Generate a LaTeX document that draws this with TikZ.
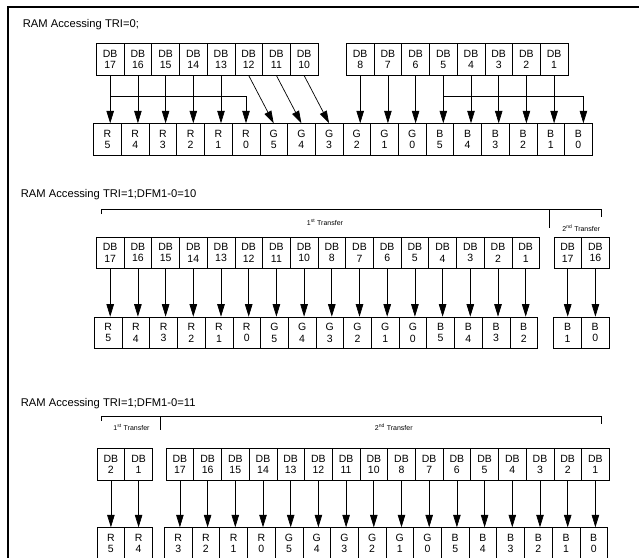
\documentclass[tikz,border=0pt]{standalone}
\usepackage{fontspec}
\setmainfont{Liberation Sans}
\usetikzlibrary{arrows.meta}
\newcommand{\cellw}{27.7}
\newcommand{\cellh}{31.5}

\begin{document}
\begin{tikzpicture}[x=1pt, y=-1pt,
    rect/.style={draw, rectangle, anchor=north west, minimum width=\cellw pt, minimum height=\cellh pt, inner sep=0pt, align=center, line width=0.7pt, font=\fontsize{10.5}{11.2}\selectfont},
    title/.style={anchor=base west, inner sep=0pt, font=\fontsize{11.2}{13}\selectfont},
    small/.style={inner sep=0pt, font=\fontsize{7}{8}\selectfont},
    arr/.style={line width=0.7pt, -{Triangle[length=12.5pt, width=7.5pt]}},
    brack/.style={line width=0.7pt}]
    \useasboundingbox (0,0) rectangle (639,557);
    % Frame
    \draw[line width=1.8pt] (8.3,580) -- (8.3,6.7) -- (660,6.7);

    % TRI=0
    \node[title] (title-1) at (22.7,27.3) {RAM Accessing TRI=0;};
    % First row
    \node[rect] (db-1-1) at (96+0*\cellw,43.3) {DB\\17};
    \node[rect] (db-1-2) at (96+1*\cellw,43.3) {DB\\16};
    \node[rect] (db-1-3) at (96+2*\cellw,43.3) {DB\\15};
    \node[rect] (db-1-4) at (96+3*\cellw,43.3) {DB\\14};
    \node[rect] (db-1-5) at (96+4*\cellw,43.3) {DB\\13};
    \node[rect] (db-1-6) at (96+5*\cellw,43.3) {DB\\12};
    \node[rect] (db-1-7) at (96+6*\cellw,43.3) {DB\\11};
    \node[rect] (db-1-8) at (96+7*\cellw,43.3) {DB\\10};
    \node[rect] (db-1-9) at (346+0*\cellw,43.3) {DB\\8};
    \node[rect] (db-1-10) at (346+1*\cellw,43.3) {DB\\7};
    \node[rect] (db-1-11) at (346+2*\cellw,43.3) {DB\\6};
    \node[rect] (db-1-12) at (346+3*\cellw,43.3) {DB\\5};
    \node[rect] (db-1-13) at (346+4*\cellw,43.3) {DB\\4};
    \node[rect] (db-1-14) at (346+5*\cellw,43.3) {DB\\3};
    \node[rect] (db-1-15) at (346+6*\cellw,43.3) {DB\\2};
    \node[rect] (db-1-16) at (346+7*\cellw,43.3) {DB\\1};
    % Second row
    \node[rect] (px-1-1) at (93.3+0*\cellw,123.3) {R\\5};
    \node[rect] (px-1-2) at (93.3+1*\cellw,123.3) {R\\4};
    \node[rect] (px-1-3) at (93.3+2*\cellw,123.3) {R\\3};
    \node[rect] (px-1-4) at (93.3+3*\cellw,123.3) {R\\2};
    \node[rect] (px-1-5) at (93.3+4*\cellw,123.3) {R\\1};
    \node[rect] (px-1-6) at (93.3+5*\cellw,123.3) {R\\0};
    \node[rect] (px-1-7) at (93.3+6*\cellw,123.3) {G\\5};
    \node[rect] (px-1-8) at (93.3+7*\cellw,123.3) {G\\4};
    \node[rect] (px-1-9) at (93.3+8*\cellw,123.3) {G\\3};
    \node[rect] (px-1-10) at (93.3+9*\cellw,123.3) {G\\2};
    \node[rect] (px-1-11) at (93.3+10*\cellw,123.3) {G\\1};
    \node[rect] (px-1-12) at (93.3+11*\cellw,123.3) {G\\0};
    \node[rect] (px-1-13) at (93.3+12*\cellw,123.3) {B\\5};
    \node[rect] (px-1-14) at (93.3+13*\cellw,123.3) {B\\4};
    \node[rect] (px-1-15) at (93.3+14*\cellw,123.3) {B\\3};
    \node[rect] (px-1-16) at (93.3+15*\cellw,123.3) {B\\2};
    \node[rect] (px-1-17) at (93.3+16*\cellw,123.3) {B\\1};
    \node[rect] (px-1-18) at (93.3+17*\cellw,123.3) {B\\0};
    % Arrows
    \draw[arr] (db-1-1.south) -- (db-1-1.south |- px-1-1.north);
    \draw[arr] (db-1-2.south) -- (db-1-2.south |- px-1-2.north);
    \draw[arr] (db-1-3.south) -- (db-1-3.south |- px-1-3.north);
    \draw[arr] (db-1-4.south) -- (db-1-4.south |- px-1-4.north);
    \draw[arr] (db-1-5.south) -- (db-1-5.south |- px-1-5.north);
    \draw[arr] ([yshift=-20.7pt]db-1-1.south) -| (px-1-6.north);
    \draw[arr] (db-1-6.south) -- (px-1-7.north);
    \draw[arr] (db-1-7.south) -- (px-1-8.north);
    \draw[arr] (db-1-8.south) -- (px-1-9.north);
    \draw[arr] (db-1-9.south) -- (db-1-9.south |- px-1-10.north);
    \draw[arr] (db-1-10.south) -- (db-1-10.south |- px-1-11.north);
    \draw[arr] (db-1-11.south) -- (db-1-11.south |- px-1-12.north);
    \draw[arr] (db-1-12.south) -- (db-1-12.south |- px-1-13.north);
    \draw[arr] (db-1-13.south) -- (db-1-13.south |- px-1-14.north);
    \draw[arr] (db-1-14.south) -- (db-1-14.south |- px-1-15.north);
    \draw[arr] (db-1-15.south) -- (db-1-15.south |- px-1-16.north);
    \draw[arr] (db-1-16.south) -- (db-1-16.south |- px-1-17.north);
    \draw[arr] ([yshift=-20.7pt]db-1-12.south) -| ([xshift=5pt]px-1-18.north);

    % TRI=1, DFM1-0=10
    \node[title] (title-2) at (20.7,197) {RAM Accessing TRI=1;DFM1-0=10};
    \draw[brack] (101.7,214) -- (101.7,209.5) -- (601.7,209.5) -- (601.7,217);
    \draw[brack] (549.3,209.5) -- (549.3,228);
    \node[small] (tr-2-1) at (325,222) {1\textsuperscript{st} Transfer};
    \node[small] (tr-2-2) at (581.2,228.3) {2\textsuperscript{nd} Transfer};
    % First row
    \node[rect] (db-2-1) at (96+0*\cellw,236.7) {DB\\17};
    \node[rect] (db-2-2) at (96+1*\cellw,236.7) {DB\\16};
    \node[rect] (db-2-3) at (96+2*\cellw,236.7) {DB\\15};
    \node[rect] (db-2-4) at (96+3*\cellw,236.7) {DB\\14};
    \node[rect] (db-2-5) at (96+4*\cellw,236.7) {DB\\13};
    \node[rect] (db-2-6) at (96+5*\cellw,236.7) {DB\\12};
    \node[rect] (db-2-7) at (96+6*\cellw,236.7) {DB\\11};
    \node[rect] (db-2-8) at (96+7*\cellw,236.7) {DB\\10};
    \node[rect] (db-2-9) at (96+8*\cellw,236.7) {DB\\8};
    \node[rect] (db-2-10) at (96+9*\cellw,236.7) {DB\\7};
    \node[rect] (db-2-11) at (96+10*\cellw,236.7) {DB\\6};
    \node[rect] (db-2-12) at (96+11*\cellw,236.7) {DB\\5};
    \node[rect] (db-2-13) at (96+12*\cellw,236.7) {DB\\4};
    \node[rect] (db-2-14) at (96+13*\cellw,236.7) {DB\\3};
    \node[rect] (db-2-15) at (96+14*\cellw,236.7) {DB\\2};
    \node[rect] (db-2-16) at (96+15*\cellw,236.7) {DB\\1};
    \node[rect] (db-2-17) at (553.5+0*\cellw,236.7) {DB\\17};
    \node[rect] (db-2-18) at (553.5+1*\cellw,236.7) {DB\\16};
    % Second row
    \node[rect] (px-2-1) at (94+0*\cellw,316.7) {R\\5};
    \node[rect] (px-2-2) at (94+1*\cellw,316.7) {R\\4};
    \node[rect] (px-2-3) at (94+2*\cellw,316.7) {R\\3};
    \node[rect] (px-2-4) at (94+3*\cellw,316.7) {R\\2};
    \node[rect] (px-2-5) at (94+4*\cellw,316.7) {R\\1};
    \node[rect] (px-2-6) at (94+5*\cellw,316.7) {R\\0};
    \node[rect] (px-2-7) at (94+6*\cellw,316.7) {G\\5};
    \node[rect] (px-2-8) at (94+7*\cellw,316.7) {G\\4};
    \node[rect] (px-2-9) at (94+8*\cellw,316.7) {G\\3};
    \node[rect] (px-2-10) at (94+9*\cellw,316.7) {G\\2};
    \node[rect] (px-2-11) at (94+10*\cellw,316.7) {G\\1};
    \node[rect] (px-2-12) at (94+11*\cellw,316.7) {G\\0};
    \node[rect] (px-2-13) at (94+12*\cellw,316.7) {B\\5};
    \node[rect] (px-2-14) at (94+13*\cellw,316.7) {B\\4};
    \node[rect] (px-2-15) at (94+14*\cellw,316.7) {B\\3};
    \node[rect] (px-2-16) at (94+15*\cellw,316.7) {B\\2};
    \node[rect] (px-2-17) at (553.3+0*\cellw,316.7) {B\\1};
    \node[rect] (px-2-18) at (553.3+1*\cellw,316.7) {B\\0};
    % Arrows
    \draw[arr] (db-2-1.south) -- (db-2-1.south |- px-2-1.north);
    \draw[arr] (db-2-2.south) -- (db-2-2.south |- px-2-2.north);
    \draw[arr] (db-2-3.south) -- (db-2-3.south |- px-2-3.north);
    \draw[arr] (db-2-4.south) -- (db-2-4.south |- px-2-4.north);
    \draw[arr] (db-2-5.south) -- (db-2-5.south |- px-2-5.north);
    \draw[arr] (db-2-6.south) -- (db-2-6.south |- px-2-6.north);
    \draw[arr] (db-2-7.south) -- (db-2-7.south |- px-2-7.north);
    \draw[arr] (db-2-8.south) -- (db-2-8.south |- px-2-8.north);
    \draw[arr] (db-2-9.south) -- (db-2-9.south |- px-2-9.north);
    \draw[arr] (db-2-10.south) -- (db-2-10.south |- px-2-10.north);
    \draw[arr] (db-2-11.south) -- (db-2-11.south |- px-2-11.north);
    \draw[arr] (db-2-12.south) -- (db-2-12.south |- px-2-12.north);
    \draw[arr] (db-2-13.south) -- (db-2-13.south |- px-2-13.north);
    \draw[arr] (db-2-14.south) -- (db-2-14.south |- px-2-14.north);
    \draw[arr] (db-2-15.south) -- (db-2-15.south |- px-2-15.north);
    \draw[arr] (db-2-16.south) -- (db-2-16.south |- px-2-16.north);
    \draw[arr] (db-2-17.south) -- (db-2-17.south |- px-2-17.north);
    \draw[arr] (db-2-18.south) -- (db-2-18.south |- px-2-18.north);

    % TRI=1, DFM1-0=11
    \node[title] (title-3) at (20.7,406.3) {RAM Accessing TRI=1;DFM1-0=11};
    \draw[brack] (101.7,420.7) -- (101.7,416.7) -- (601,416.7) -- (601,424);
    \draw[brack] (160,416.7) -- (160,430);
    \node[small] (tr-3-1) at (131.5,427.3) {1\textsuperscript{st} Transfer};
    \node[small] (tr-3-2) at (393.8,427.3) {2\textsuperscript{nd} Transfer};
    % First row
    \node[rect] (db-3-1) at (96.7+0*\cellw,448.3) {DB\\2};
    \node[rect] (db-3-2) at (96.7+1*\cellw,448.3) {DB\\1};
    \node[rect] (db-3-3) at (165.7+0*\cellw,448.3) {DB\\17};
    \node[rect] (db-3-4) at (165.7+1*\cellw,448.3) {DB\\16};
    \node[rect] (db-3-5) at (165.7+2*\cellw,448.3) {DB\\15};
    \node[rect] (db-3-6) at (165.7+3*\cellw,448.3) {DB\\14};
    \node[rect] (db-3-7) at (165.7+4*\cellw,448.3) {DB\\13};
    \node[rect] (db-3-8) at (165.7+5*\cellw,448.3) {DB\\12};
    \node[rect] (db-3-9) at (165.7+6*\cellw,448.3) {DB\\11};
    \node[rect] (db-3-10) at (165.7+7*\cellw,448.3) {DB\\10};
    \node[rect] (db-3-11) at (165.7+8*\cellw,448.3) {DB\\8};
    \node[rect] (db-3-12) at (165.7+9*\cellw,448.3) {DB\\7};
    \node[rect] (db-3-13) at (165.7+10*\cellw,448.3) {DB\\6};
    \node[rect] (db-3-14) at (165.7+11*\cellw,448.3) {DB\\5};
    \node[rect] (db-3-15) at (165.7+12*\cellw,448.3) {DB\\4};
    \node[rect] (db-3-16) at (165.7+13*\cellw,448.3) {DB\\3};
    \node[rect] (db-3-17) at (165.7+14*\cellw,448.3) {DB\\2};
    \node[rect] (db-3-18) at (165.7+15*\cellw,448.3) {DB\\1};
    % Second row
    \node[rect] (px-3-1) at (96.7+0*\cellw,527.3) {R\\5};
    \node[rect] (px-3-2) at (96.7+1*\cellw,527.3) {R\\4};
    \node[rect] (px-3-3) at (164+0*\cellw,527.3) {R\\3};
    \node[rect] (px-3-4) at (164+1*\cellw,527.3) {R\\2};
    \node[rect] (px-3-5) at (164+2*\cellw,527.3) {R\\1};
    \node[rect] (px-3-6) at (164+3*\cellw,527.3) {R\\0};
    \node[rect] (px-3-7) at (164+4*\cellw,527.3) {G\\5};
    \node[rect] (px-3-8) at (164+5*\cellw,527.3) {G\\4};
    \node[rect] (px-3-9) at (164+6*\cellw,527.3) {G\\3};
    \node[rect] (px-3-10) at (164+7*\cellw,527.3) {G\\2};
    \node[rect] (px-3-11) at (164+8*\cellw,527.3) {G\\1};
    \node[rect] (px-3-12) at (164+9*\cellw,527.3) {G\\0};
    \node[rect] (px-3-13) at (164+10*\cellw,527.3) {B\\5};
    \node[rect] (px-3-14) at (164+11*\cellw,527.3) {B\\4};
    \node[rect] (px-3-15) at (164+12*\cellw,527.3) {B\\3};
    \node[rect] (px-3-16) at (164+13*\cellw,527.3) {B\\2};
    \node[rect] (px-3-17) at (164+14*\cellw,527.3) {B\\1};
    \node[rect] (px-3-18) at (164+15*\cellw,527.3) {B\\0};
    % Arrows
    \draw[arr] (db-3-1.south) -- (db-3-1.south |- px-3-1.north);
    \draw[arr] (db-3-2.south) -- (db-3-2.south |- px-3-2.north);
    \draw[arr] (db-3-3.south) -- (db-3-3.south |- px-3-3.north);
    \draw[arr] (db-3-4.south) -- (db-3-4.south |- px-3-4.north);
    \draw[arr] (db-3-5.south) -- (db-3-5.south |- px-3-5.north);
    \draw[arr] (db-3-6.south) -- (db-3-6.south |- px-3-6.north);
    \draw[arr] (db-3-7.south) -- (db-3-7.south |- px-3-7.north);
    \draw[arr] (db-3-8.south) -- (db-3-8.south |- px-3-8.north);
    \draw[arr] (db-3-9.south) -- (db-3-9.south |- px-3-9.north);
    \draw[arr] (db-3-10.south) -- (db-3-10.south |- px-3-10.north);
    \draw[arr] (db-3-11.south) -- (db-3-11.south |- px-3-11.north);
    \draw[arr] (db-3-12.south) -- (db-3-12.south |- px-3-12.north);
    \draw[arr] (db-3-13.south) -- (db-3-13.south |- px-3-13.north);
    \draw[arr] (db-3-14.south) -- (db-3-14.south |- px-3-14.north);
    \draw[arr] (db-3-15.south) -- (db-3-15.south |- px-3-15.north);
    \draw[arr] (db-3-16.south) -- (db-3-16.south |- px-3-16.north);
    \draw[arr] (db-3-17.south) -- (db-3-17.south |- px-3-17.north);
    \draw[arr] (db-3-18.south) -- (db-3-18.south |- px-3-18.north);

\end{tikzpicture}
\end{document}
